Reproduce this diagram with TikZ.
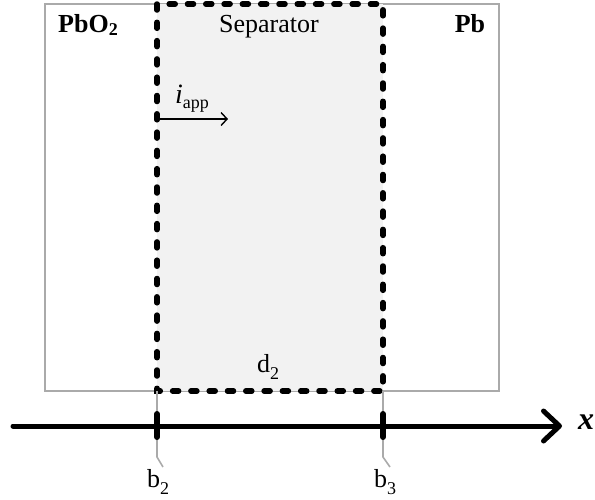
\documentclass[tikz,border=0pt]{standalone}
\usepackage{fontspec}
\setmainfont{Liberation Serif}
\usetikzlibrary{arrows.meta}
\definecolor{sepfill}{HTML}{F2F2F2}
\definecolor{cellgray}{HTML}{AAAAAA}
% lowered subscript: optional drop, then text
\newcommand\lowsub[2][6pt]{\raisebox{-#1}{\fontsize{18}{18}\selectfont #2}}
\tikzset{
  cellbox/.style={draw=cellgray, line width=1.8pt},
  sepbox/.style={draw=black, fill=sepfill, line width=5.5pt, line cap=round,
                 dash pattern=on 6pt off 12.3pt},
  axisline/.style={line width=5pt, line cap=round,
                   -{Straight Barb[length=16pt,width=30pt,line width=5pt,round]}},
  tickmark/.style={line width=6pt, line cap=round},
  leader/.style={draw=cellgray, line width=1.6pt},
  lbl/.style={font=\fontsize{26}{28}\selectfont, inner sep=0pt},
  boldlbl/.style={font=\fontsize{26}{28}\selectfont\bfseries, inner sep=0pt},
}
\begin{document}
\begin{tikzpicture}[x=1pt, y=-1pt]
  \useasboundingbox (0,0) rectangle (595,499);

  % cell outline: positive plate, separator, negative plate
  \draw[cellbox] (45,4) rectangle (499,391);
  % separator domain
  \draw[sepbox] (157,4) rectangle (383,391);

  % region labels
  \node[boldlbl, anchor=base] (pbo2) at (88,32) {PbO\lowsub[3pt]{\bfseries 2}};
  \node[lbl, anchor=base] (sep) at (269,32) {Separator};
  \node[boldlbl, anchor=base] (pb) at (470,32) {Pb};
  \node[lbl, anchor=base] (d2) at (268,372) {d\lowsub[7pt]{2}};

  % applied current
  \coordinate (iS) at (157,119);
  \coordinate (iE) at (228,119);
  \draw[line width=1.4pt, -{Straight Barb[length=6pt,width=13pt,line width=1.4pt]}] (iS) -- (iE);
  \node[anchor=base, inner sep=0pt, font=\fontsize{28}{30}\selectfont] (iapp) at (192,103) {\textit{i}\lowsub[5pt]{app}};

  % x axis
  \coordinate (axL) at (13,426);
  \coordinate (axR) at (562,426);
  \draw[axisline] (axL) -- (axR);
  \node[font=\fontsize{32}{32}\selectfont\bfseries\itshape, inner sep=0pt] (xlab) at (586,422) {x};

  % boundary markers with leader lines
  \coordinate (b2top) at (157,391);
  \coordinate (b2bend) at (157,457);
  \coordinate (b2end) at (163,467);
  \coordinate (b3top) at (383,391);
  \coordinate (b3bend) at (383,457);
  \coordinate (b3end) at (390,467);
  \draw[leader] (b2top) -- (b2bend) -- (b2end);
  \draw[leader] (b3top) -- (b3bend) -- (b3end);
  \coordinate (t2a) at (157,414);
  \coordinate (t2b) at (157,437);
  \coordinate (t3a) at (383,414);
  \coordinate (t3b) at (383,437);
  \draw[tickmark] (t2a) -- (t2b);
  \draw[tickmark] (t3a) -- (t3b);
  \node[lbl, anchor=base] (b2) at (158,487) {b\lowsub[7pt]{2}};
  \node[lbl, anchor=base] (b3) at (385,487) {b\lowsub[7pt]{3}};
\end{tikzpicture}
\end{document}
